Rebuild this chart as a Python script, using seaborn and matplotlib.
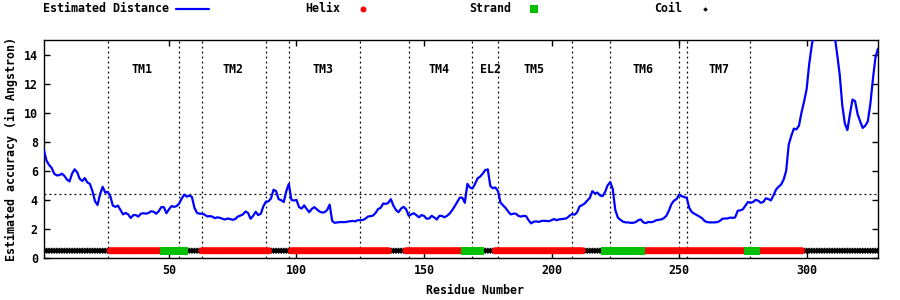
import matplotlib
matplotlib.use("Agg")
import matplotlib.pyplot as plt
import seaborn as sns
import pandas as pd
from matplotlib.lines import Line2D

# ---------------- data ----------------
distance = [
    7.4, 6.7, 6.4, 6.2, 5.8, 5.68, 5.7, 5.8, 5.65, 5.4,
    5.27, 5.8, 6.1, 5.9, 5.45, 5.3, 5.5, 5.2, 5.1, 4.6,
    3.9, 3.65, 4.4, 4.9, 4.5, 4.55, 4.25, 3.6, 3.52, 3.6,
    3.3, 3.0, 3.1, 3.0, 2.75, 2.95, 2.95, 2.85, 3.05, 3.08,
    3.05, 3.1, 3.22, 3.18, 3.05, 3.22, 3.5, 3.5, 3.08, 3.35,
    3.57, 3.52, 3.57, 3.75, 4.1, 4.36, 4.22, 4.3, 4.2, 3.45,
    3.1, 3.05, 3.05, 2.98, 2.86, 2.88, 2.85, 2.74, 2.8, 2.76,
    2.7, 2.65, 2.72, 2.68, 2.63, 2.68, 2.85, 2.92, 3.0, 3.2,
    3.1, 2.7, 2.9, 3.18, 2.95, 3.05, 3.55, 3.88, 3.9, 4.1,
    4.7, 4.6, 4.05, 3.98, 3.85, 4.6, 5.1, 4.0, 3.95, 4.0,
    3.5, 3.4, 3.62, 3.37, 3.15, 3.38, 3.5, 3.35, 3.2, 3.13,
    3.15, 3.3, 3.67, 2.55, 2.42, 2.45, 2.47, 2.47, 2.47, 2.5,
    2.53, 2.55, 2.52, 2.6, 2.6, 2.62, 2.7, 2.85, 2.88, 2.92,
    3.1, 3.37, 3.45, 3.75, 3.72, 3.8, 4.05, 3.6, 3.3, 3.15,
    3.4, 3.52, 3.35, 2.9, 3.0, 3.08, 2.95, 2.8, 2.95, 2.9,
    2.7, 2.72, 2.9, 2.79, 2.65, 2.9, 2.9, 2.8, 2.9, 3.05,
    3.28, 3.55, 3.85, 4.15, 4.15, 3.8, 5.1, 4.85, 4.78, 5.1,
    5.48, 5.6, 5.8, 6.05, 6.1, 4.95, 4.8, 4.85, 4.6, 3.8,
    3.62, 3.44, 3.2, 3.0, 3.05, 3.05, 2.9, 2.85, 2.9, 2.88,
    2.6, 2.38, 2.5, 2.52, 2.48, 2.55, 2.56, 2.55, 2.53, 2.6,
    2.68, 2.6, 2.66, 2.68, 2.7, 2.74, 2.9, 3.02, 2.98, 3.14,
    3.55, 3.64, 3.75, 3.95, 4.13, 4.6, 4.45, 4.5, 4.3, 4.25,
    4.55, 5.0, 5.22, 4.75, 3.3, 2.78, 2.63, 2.5, 2.45, 2.45,
    2.42, 2.42, 2.47, 2.6, 2.65, 2.45, 2.4, 2.48, 2.46, 2.5,
    2.6, 2.63, 2.65, 2.74, 2.9, 3.25, 3.7, 3.95, 4.05, 4.36,
    4.25, 4.2, 4.13, 3.45, 3.16, 3.05, 2.95, 2.85, 2.74, 2.55,
    2.47, 2.45, 2.45, 2.45, 2.47, 2.55, 2.7, 2.72, 2.72, 2.78,
    2.76, 2.8, 3.25, 3.28, 3.35, 3.6, 3.85, 3.8, 3.85, 4.0,
    3.95, 3.8, 3.85, 4.1, 4.06, 3.96, 4.3, 4.7, 4.9, 5.05,
    5.4, 6.0, 7.8, 8.4, 8.9, 8.85, 9.1, 10.0, 10.75, 11.6,
    13.3, 14.6, 15.6, 16.3, 16.8, 17.0, 17.0, 16.7, 16.3, 15.8,
    15.3, 14.0, 12.6, 10.5, 9.25, 8.8, 9.9, 10.9, 10.8, 9.9,
    9.4, 8.95, 9.1, 9.4, 10.6, 12.3, 13.8, 14.4,
]
residues = list(range(1, len(distance) + 1))

# secondary structure segments: (first residue, last residue, type)
ss_segments = [
    (1, 26, "Coil"), (27, 47, "Helix"), (48, 56, "Strand"), (57, 62, "Coil"),
    (63, 89, "Helix"), (90, 97, "Coil"), (98, 136, "Helix"), (137, 142, "Coil"),
    (143, 165, "Helix"), (166, 172, "Strand"), (173, 177, "Coil"),
    (178, 212, "Helix"), (213, 220, "Coil"), (221, 235, "Strand"),
    (236, 276, "Helix"), (277, 280, "Strand"), (281, 298, "Helix"),
    (299, 328, "Coil"),
]
ss_level = 0.5

tm_bounds = [26, 54, 63, 88, 97, 125, 144, 169, 179, 208, 223, 250, 253, 278]
tm_names = ["TM1", "TM2", "TM3", "TM4", "EL2", "TM5", "TM6", "TM7"]
tm_label_x = [39.5, 75, 110.5, 156, 176, 193, 236, 265.5]
tm_label_y = 13.0
threshold = 4.4

xticks = [50, 100, 150, 200, 250, 300]
yticks = [0, 2, 4, 6, 8, 10, 12, 14]

# ---------------- style ----------------
sns.set_style("ticks")
plt.rcParams['font.family'] = ['DejaVu Sans Mono', 'DejaVu Sans']
plt.rcParams['font.weight'] = 'bold'
plt.rcParams['font.size'] = 8.4
plt.rcParams['axes.labelweight'] = 'bold'
plt.rcParams['text.color'] = 'black'
plt.rcParams['axes.labelcolor'] = 'black'
plt.rcParams['xtick.color'] = 'black'
plt.rcParams['ytick.color'] = 'black'

W, H = 900, 300
fig = plt.figure(figsize=(9, 3), dpi=100)
ax = fig.add_axes([44 / W, 42 / H, 834 / W, 218 / H])

# secondary-structure rows
rows = []
for s, e, t in ss_segments:
    for r in range(s, e + 1):
        rows.append({"residue": r, "y": ss_level, "type": t})
ss_df = pd.DataFrame(rows)

styles = {
    "Coil": dict(marker="D", s=11, color="black"),
    "Helix": dict(marker="o", s=26, color="#ff0000"),
    "Strand": dict(marker="s", s=34, color="#00c000"),
}
for t in ["Coil", "Helix", "Strand"]:
    sub = ss_df[ss_df["type"] == t]
    st = styles[t]
    sns.scatterplot(data=sub, x="residue", y="y", marker=st["marker"], s=st["s"],
                    color=st["color"], edgecolor="none", linewidth=0,
                    ax=ax, legend=False, zorder=3)

# distance curve
sns.lineplot(x=residues, y=distance, color="#0000ff", linewidth=1.6,
             ax=ax, zorder=4)

# reference lines
for b in tm_bounds:
    ax.axvline(b, color="black", linestyle=(0, (1.5, 2.5)), linewidth=0.9, zorder=2)
ax.axhline(threshold, color="black", linestyle=(0, (1.5, 2.5)), linewidth=0.9, zorder=2)

for name, x in zip(tm_names, tm_label_x):
    ax.text(x, tm_label_y, name, ha="center", va="center", fontsize=8.4,
            fontweight="bold")

ax.set_xlim(1, 328)
ax.set_ylim(0, 15)
ax.set_xticks(xticks)
ax.set_yticks(yticks)
ax.tick_params(direction="in", top=True, right=True, length=4, width=1,
               labelsize=8.4, pad=4.5)
for lab in ax.get_xticklabels() + ax.get_yticklabels():
    lab.set_fontweight("bold")
for sp in ax.spines.values():
    sp.set_visible(True)
    sp.set_linewidth(1.0)
    sp.set_color("black")

ax.set_xlabel("Residue Number", fontsize=8.4, fontweight="bold")
ax.set_ylabel("Estimated accuracy (in Angstron)", fontsize=8.4, fontweight="bold")
ax.xaxis.set_label_coords((475 - 44) / 834, -(291 - 258) / 218)
ax.xaxis.label.set_va("center")
ax.yaxis.set_label_coords((11 - 44) / 834, 0.5)
ax.yaxis.label.set_va("center")

# legend in gnuplot style (text right-justified, sample after it)
leg_y = 1 - 9 / H
leg_text_end = [169, 340, 511, 682]
leg_labels = ["Estimated Distance", "Helix", "Strand", "Coil"]
for xe, lab in zip(leg_text_end, leg_labels):
    fig.text(xe / W, leg_y, lab, ha="right", va="center", fontsize=8.4,
             fontweight="bold")
fig.add_artist(Line2D([176 / W, 209 / W], [leg_y, leg_y], color="#0000ff",
                      linewidth=1.6, transform=fig.transFigure))
fig.add_artist(Line2D([363 / W], [leg_y], marker="o", markersize=4.3,
                      color="#ff0000", markeredgewidth=0, linestyle="none",
                      transform=fig.transFigure))
fig.add_artist(Line2D([534 / W], [leg_y], marker="s", markersize=5.2,
                      color="#00c000", markeredgewidth=0, linestyle="none",
                      transform=fig.transFigure))
fig.add_artist(Line2D([705 / W], [leg_y], marker="D", markersize=2.3,
                      color="black", markeredgewidth=0, linestyle="none",
                      transform=fig.transFigure))

fig.savefig("out.png", dpi=100, facecolor="white")
